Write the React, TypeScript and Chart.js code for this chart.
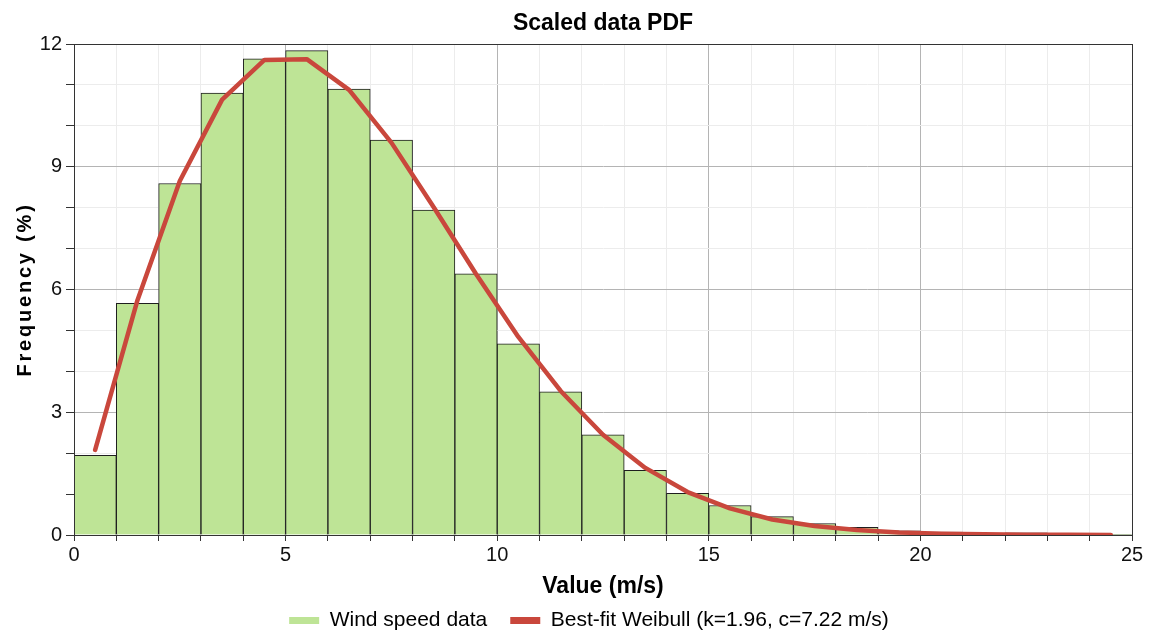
import React, { useEffect, useRef } from "react";
import { Chart, registerables } from "chart.js";

Chart.register(...registerables);

const chartTitle = "Scaled data PDF";
const xTitle = "Value (m/s)";
const yTitle = "Frequency (%)";
const barLabel = "Wind speed data";
const lineLabel = "Best-fit Weibull (k=1.96, c=7.22 m/s)";

const binCenters = [0.5, 1.5, 2.5, 3.5, 4.5, 5.5, 6.5, 7.5, 8.5, 9.5, 10.5, 11.5, 12.5, 13.5, 14.5, 15.5, 16.5, 17.5, 18.5, 19.5, 20.5, 21.5, 22.5, 23.5, 24.5];
const windFreq = [1.95, 5.66, 8.59, 10.8, 11.64, 11.84, 10.9, 9.65, 7.94, 6.38, 4.67, 3.5, 2.45, 1.58, 1.02, 0.72, 0.45, 0.28, 0.19, 0.1, 0.07, 0.03, 0.05, 0.03, 0.01];
const weibullFreq = [2.08, 5.74, 8.65, 10.64, 11.61, 11.63, 10.88, 9.59, 8.01, 6.38, 4.84, 3.52, 2.45, 1.64, 1.05, 0.65, 0.38, 0.22, 0.12, 0.064, 0.032, 0.016, 0.0075, 0.0035, 0.0015];

const xLabelTicks = [0, 5, 10, 15, 20, 25];
const yLabelTicks = [0, 3, 6, 9, 12];

const barFill = "#bee496";
const barEdge = "#1e1e1e";
const lineColor = "#c9473c";
const FONT = "'Liberation Sans', Arial, sans-serif";

export default function App() {
  const canvasRef = useRef<HTMLCanvasElement | null>(null);

  useEffect(() => {
    const canvas = canvasRef.current;
    if (!canvas) return;
    Chart.defaults.font.family = FONT;
    Chart.defaults.color = "#000";

    const framePlugin = {
      id: "frameAndYTitle",
      afterLayout(chart: any) {
        const lg = chart.legend;
        if (lg) {
          const dx = 23;
          const newTop = 587;
          const h = lg.bottom - lg.top;
          lg.left += dx;
          lg.right += dx;
          lg.top = newTop;
          lg.bottom = newTop + h;
        }
      },
      afterDraw(chart: any) {
        const { ctx, chartArea } = chart;
        ctx.save();
        ctx.strokeStyle = "#333";
        ctx.lineWidth = 1;
        ctx.strokeRect(
          Math.round(chartArea.left) + 0.5,
          Math.round(chartArea.top) + 0.5,
          Math.round(chartArea.right - chartArea.left),
          Math.round(chartArea.bottom - chartArea.top)
        );
        ctx.restore();

        ctx.save();
        ctx.translate(25, (chartArea.top + chartArea.bottom) / 2);
        ctx.rotate(-Math.PI / 2);
        ctx.font = `bold 20px ${FONT}`;
        try {
          (ctx as any).letterSpacing = "2.8px";
        } catch (e) {}
        ctx.fillStyle = "#000";
        ctx.textAlign = "center";
        ctx.textBaseline = "middle";
        ctx.fillText(yTitle, 0, 0);
        ctx.restore();
      },
    };

    const chart = new Chart(canvas, {
      type: "bar",
      data: {
        datasets: [
          {
            type: "bar",
            label: barLabel,
            data: binCenters.map((x, i) => ({ x, y: windFreq[i] })),
            backgroundColor: barFill,
            borderColor: barEdge,
            borderWidth: 1,
            barPercentage: 1,
            categoryPercentage: 1,
            order: 2,
          } as any,
          {
            type: "line",
            label: lineLabel,
            data: binCenters.map((x, i) => ({ x, y: weibullFreq[i] })),
            borderColor: lineColor,
            backgroundColor: lineColor,
            borderWidth: 4.5,
            pointRadius: 0,
            tension: 0,
            borderCapStyle: "round",
            borderJoinStyle: "round",
            order: 1,
          } as any,
        ],
      },
      options: {
        animation: false,
        responsive: true,
        maintainAspectRatio: false,
        layout: { padding: { left: 0, right: 17, top: 0, bottom: -27 } },
        plugins: {
          title: {
            display: true,
            text: chartTitle,
            fullSize: false,
            color: "#000",
            font: { size: 23, weight: "bold", family: FONT },
            padding: { top: 10, bottom: 6.4 },
          },
          legend: {
            display: true,
            position: "bottom",
            labels: {
              padding: 23,
              boxWidth: 30,
              boxHeight: 7,
              color: "#000",
              font: { size: 21, family: FONT },
              useBorderRadius: true,
              borderRadius: 3.5,
              generateLabels: () => [
                { text: barLabel, fillStyle: barFill, strokeStyle: barFill, lineWidth: 0, datasetIndex: 0, hidden: false },
                { text: lineLabel, fillStyle: lineColor, strokeStyle: lineColor, lineWidth: 0, datasetIndex: 1, hidden: false },
              ] as any,
            },
          },
          tooltip: { enabled: false },
        },
        scales: {
          x: {
            type: "linear",
            min: 0,
            max: 25,
            offset: false,
            afterFit: (scale: any) => {
              scale.height = 70;
            },
            grid: {
              offset: false,
              drawTicks: true,
              tickLength: 6,
              tickColor: "#333",
              color: (c: any) => (c.tick && xLabelTicks.includes(c.tick.value) ? "#b4b4b4" : "#ececec"),
              lineWidth: 1,
            },
            border: { display: true, color: "#333", width: 1 },
            ticks: {
              stepSize: 1,
              autoSkip: false,
              maxRotation: 0,
              padding: 2,
              color: "#111",
              font: { size: 20, family: FONT },
              callback: (v: any) => (xLabelTicks.includes(Number(v)) ? String(v) : ""),
            },
            title: {
              display: true,
              text: xTitle,
              color: "#000",
              font: { size: 23, weight: "bold", family: FONT },
              padding: { top: 0, bottom: 5 },
            },
          },
          y: {
            type: "linear",
            min: 0,
            max: 12,
            afterFit: (scale: any) => {
              scale.width = 74;
            },
            grid: {
              drawTicks: true,
              tickLength: 8,
              tickColor: "#333",
              color: (c: any) => (c.tick && yLabelTicks.includes(c.tick.value) ? "#b4b4b4" : "#ececec"),
              lineWidth: 1,
            },
            border: { display: true, color: "#333", width: 1 },
            ticks: {
              stepSize: 1,
              autoSkip: false,
              padding: 4,
              color: "#111",
              font: { size: 20, family: FONT },
              callback: (v: any) => (yLabelTicks.includes(Number(v)) ? String(v) : ""),
            },
          },
        },
      } as any,
      plugins: [framePlugin],
    });

    return () => chart.destroy();
  }, []);

  return (
    <div style={{ position: "absolute", left: 0, top: 0, width: 1149, height: 632, background: "#fff" }}>
      <canvas ref={canvasRef} />
    </div>
  );
}
